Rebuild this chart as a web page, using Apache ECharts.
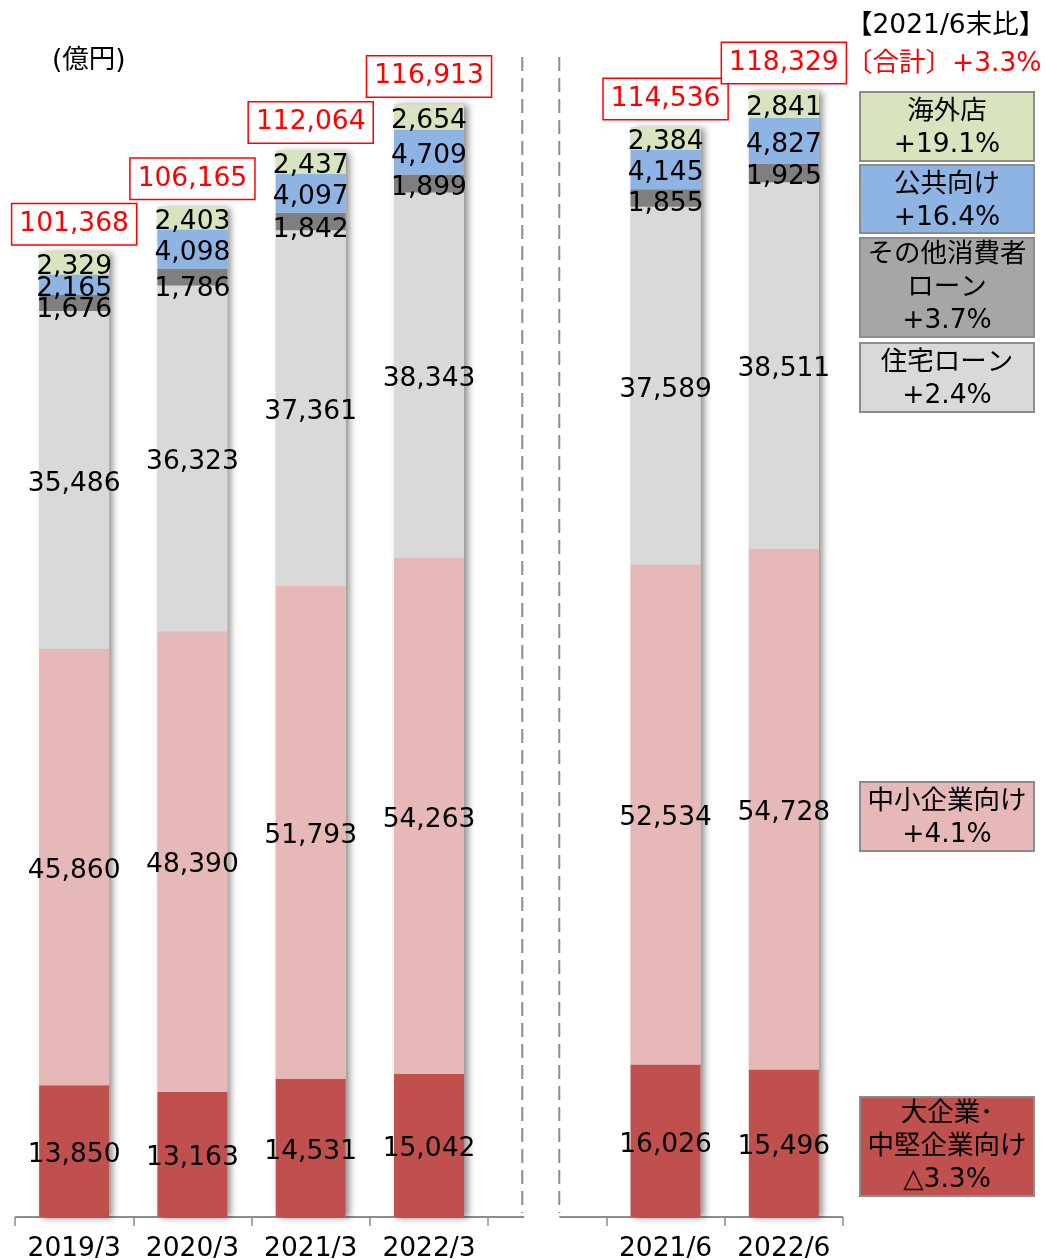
<!DOCTYPE html>
<html>
<head>
<meta charset="utf-8">
<script src="https://cdn.jsdelivr.net/npm/echarts@6/dist/echarts.min.js"></script>
<style>
html,body{margin:0;padding:0;background:#fff;}
#chart{width:1046px;height:1260px;}
</style>
</head>
<body>
<div id="chart"></div>
<script>
// ---- data ----
const categories = ['2019/3', '2020/3', '2021/3', '2022/3', '', '2021/6', '2022/6'];
const largeCorp     = [13850, 13163, 14531, 15042, null, 16026, 15496];
const smeCorp       = [45860, 48390, 51793, 54263, null, 52534, 54728];
const housingLoan   = [35486, 36323, 37361, 38343, null, 37589, 38511];
const otherConsumer = [1676, 1786, 1842, 1899, null, 1855, 1925];
const publicSector  = [2165, 4098, 4097, 4709, null, 4145, 4827];
const overseas      = [2329, 2403, 2437, 2654, null, 2384, 2841];
const totals        = [101368, 106165, 112064, 116913, null, 114536, 118329];

const legendLabels = [
  '海外店\n+19.1%',
  '公共向け\n+16.4%',
  'その他消費者\nローン\n+3.7%',
  '住宅ローン\n+2.4%',
  '中小企業向け\n+4.1%',
  '大企業･\n中堅企業向け\n△3.3%'
];
const unitText = '(億円)';
const compareTitle = '【2021/6末比】';
const totalChange = '〔合計〕+3.3%';

// ---- styles (label nudges for the thin dark-grey segment) ----
const darkLabelShift = [3, 8, 5, 1, 0, 2, 0];
const FONT = '"DejaVu Sans", "Noto Sans CJK JP", sans-serif';
const FS = 26.5;
const colors = {
  large: '#C0504D', sme: '#E6B9B8', housing: '#D9D9D9',
  other: '#7F7F7F', pub: '#8EB4E3', overseas: '#D7E4BD'
};
const fmt = v => (v == null ? '' : Number(v).toLocaleString('en-US'));

function seg(name, data, color) {
  return {
    name, type: 'bar', stack: 'loan', data, barWidth: 70, barGap: '-100%', z: 3,
    itemStyle: {color},
    label: {
      show: true, position: 'inside', color: '#000', offset: [0, 4],
      fontFamily: FONT, fontSize: FS,
      formatter: p => fmt(p.value)
    }
  };
}

const chart = echarts.init(document.getElementById('chart'), null, {renderer: 'canvas'});
chart.setOption({
  animation: false,
  backgroundColor: '#fff',
  grid: {left: 15, right: 203, top: 75, bottom: 43, containLabel: false, outerBoundsMode: 'none'},
  xAxis: {
    type: 'category', data: categories,
    axisLine: {show: false},
    axisTick: {show: true, interval: 0, length: 9, lineStyle: {color: '#8c8c8c', width: 1.5}},
    axisLabel: {show: true, interval: 0, color: '#000', fontFamily: FONT, fontSize: FS, margin: 19, hideOverlap: false}
  },
  yAxis: {type: 'value', min: 0, max: 120000, show: false, splitLine: {show: false}},
  series: [
    seg('大企業・中堅企業向け', largeCorp, colors.large),
    seg('中小企業向け', smeCorp, colors.sme),
    seg('住宅ローン', housingLoan, colors.housing),
    seg('その他消費者ローン',
      otherConsumer.map((v, i) => ({value: v, label: {offset: [0, 4 + darkLabelShift[i]]}})),
      colors.other),
    seg('公共向け', publicSector, colors.pub),
    seg('海外店', overseas, colors.overseas),
    {
      name: '合計', type: 'bar', data: totals, barWidth: 70, barGap: '-100%', z: 1,
      silent: true,
      itemStyle: {
        color: '#D9D9D9',
        shadowColor: 'rgba(0,0,0,0.45)', shadowBlur: 7, shadowOffsetX: 4, shadowOffsetY: 1
      },
      label: {
        show: true, position: 'top', distance: 8,
        color: '#FF0000', fontFamily: FONT, fontSize: FS, lineHeight: 30,
        borderColor: '#FF0000', borderWidth: 1.5, backgroundColor: '#fff',
        padding: [5, 7, 5, 7],
        formatter: p => fmt(p.value)
      }
    }
  ]
});

// ---- decorations (axis line with break, dashed separators, legend boxes) ----
const gapCenter = chart.convertToPixel({xAxisIndex: 0}, 4);
const firstEdge = chart.convertToPixel({xAxisIndex: 0}, 0) - 118.3 / 2;
const lastEdge = chart.convertToPixel({xAxisIndex: 0}, 6) + 118.3 / 2;
const baseY = chart.convertToPixel({yAxisIndex: 0}, 0);

const lineStyle = {stroke: '#8c8c8c', lineWidth: 2};
const dashStyle = {stroke: '#8c8c8c', lineWidth: 2, lineDash: [14, 7]};
const graphics = [
  {type: 'line', shape: {x1: firstEdge, y1: baseY, x2: gapCenter - 23, y2: baseY}, style: lineStyle, silent: true},
  {type: 'line', shape: {x1: gapCenter + 12, y1: baseY, x2: lastEdge, y2: baseY}, style: lineStyle, silent: true},
  {type: 'line', shape: {x1: gapCenter - 25, y1: 57, x2: gapCenter - 25, y2: baseY - 4}, style: dashStyle, silent: true},
  {type: 'line', shape: {x1: gapCenter + 12, y1: 57, x2: gapCenter + 12, y2: baseY - 4}, style: dashStyle, silent: true},
  {type: 'text', style: {text: unitText, x: 52, y: 61, verticalAlign: 'middle', font: `${FS}px ${FONT}`, fill: '#000'}},
  {type: 'text', style: {text: compareTitle, x: 846, y: 26, verticalAlign: 'middle', font: `${FS}px ${FONT}`, fill: '#000'}},
  {type: 'text', style: {text: totalChange, x: 846, y: 64, verticalAlign: 'middle', font: `${FS}px ${FONT}`, fill: '#FF0000'}}
];

const boxes = [
  {y: 92, h: 69, fill: '#D7E4BD', dy: 2.5},
  {y: 165, h: 68, fill: '#8EB4E3', dy: 2.5},
  {y: 238, h: 99, fill: '#A6A6A6', dy: 1},
  {y: 343, h: 69, fill: '#D9D9D9', dy: 2.5},
  {y: 782, h: 69, fill: '#E6B9B8', dy: 2.5},
  {y: 1097, h: 99, fill: '#C0504D', dy: 1}
];
boxes.forEach((b, i) => {
  graphics.push({
    type: 'rect', shape: {x: 860, y: b.y, width: 174, height: b.h},
    style: {fill: b.fill, stroke: '#8c8c8c', lineWidth: 2}, silent: true
  });
  graphics.push({
    type: 'text',
    style: {
      text: legendLabels[i], x: 947, y: b.y + b.h / 2 + b.dy,
      align: 'center', verticalAlign: 'middle',
      font: `${FS}px ${FONT}`, lineHeight: 33, fill: '#000'
    },
    silent: true
  });
});
chart.setOption({graphic: graphics});
</script>
</body>
</html>
